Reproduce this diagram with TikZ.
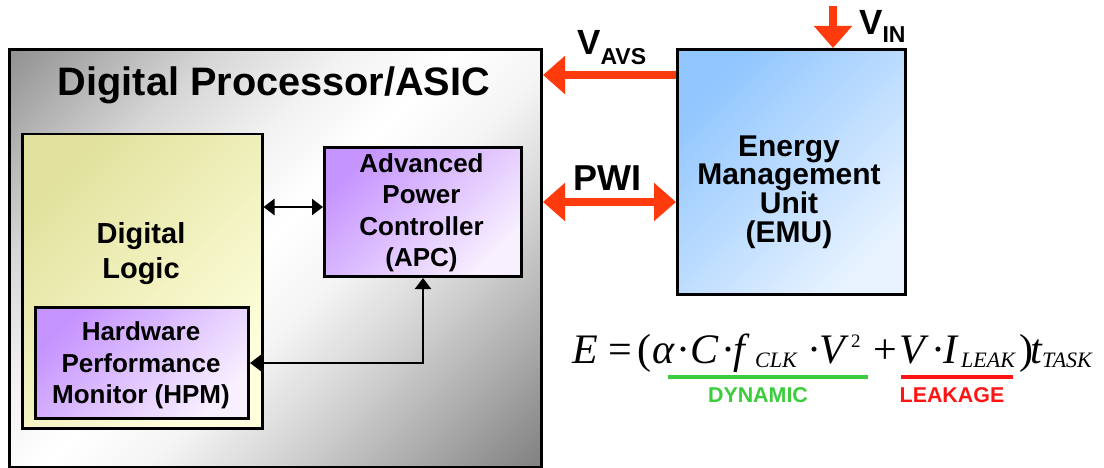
\documentclass[tikz,border=0pt]{standalone}
\usepackage{fontspec}
\usepackage{graphicx}
\setmainfont{Liberation Sans}
\newfontfamily\eqf{Liberation Serif}
\usetikzlibrary{arrows.meta}
\definecolor{avsred}{RGB}{255,58,12}
\definecolor{dyngreen}{RGB}{60,205,60}
\definecolor{leakred}{RGB}{255,20,20}
\definecolor{dlA}{RGB}{226,226,158}
\definecolor{dlB}{RGB}{255,255,222}
\definecolor{puA}{RGB}{198,148,255}
\definecolor{puB}{RGB}{248,240,255}
\definecolor{emA}{RGB}{145,198,255}
\definecolor{emB}{RGB}{232,243,255}
\pgfdeclareverticalshading{asicsh}{100bp}{rgb(0bp)=(0.32,0.32,0.32); rgb(12bp)=(0.46,0.46,0.46); rgb(24bp)=(0.66,0.66,0.66); rgb(34bp)=(0.82,0.82,0.82); rgb(44bp)=(0.96,0.96,0.96); rgb(52bp)=(1,1,1); rgb(60bp)=(0.95,0.95,0.95); rgb(70bp)=(0.84,0.84,0.84); rgb(86bp)=(0.56,0.56,0.56); rgb(100bp)=(0.36,0.36,0.36)}
\newcommand\eqsb[1]{\raisebox{-4pt}{\fontsize{22}{22}\selectfont\itshape #1}}
\newcommand\eqsp[1]{\raisebox{16pt}{\fontsize{19}{19}\selectfont\upshape #1}}
\newcommand\eqbx[2]{\makebox[#1pt][l]{#2}}
\tikzset{
  blkbox/.style={draw=black, line width=3pt, inner sep=0pt, anchor=north west},
  lbl/.style={font=\bfseries\fontsize{26}{31.5}\selectfont, align=center, inner sep=0pt},
  blkarr/.style={line width=2.5pt, {Triangle[length=11pt,width=16pt]}-{Triangle[length=11pt,width=16pt]}},
  redarr/.style={draw=avsred, line width=8pt, -{Triangle[length=22pt,width=37pt]}},
  redarr2/.style={draw=avsred, line width=8pt, {Triangle[length=22pt,width=37pt]}-{Triangle[length=22pt,width=37pt]}},
}
\begin{document}
\begin{tikzpicture}[x=1pt,y=-1pt]
\useasboundingbox[fill=white] (0,0) rectangle (1104,468);
% boxes
\node[blkbox, minimum width=532pt, minimum height=418pt, shading=asicsh, shading angle=45] (asic) at (8,48) {};
\node[blkbox, line width=2.5pt, minimum width=240pt, minimum height=294pt, top color=dlA, bottom color=dlB, shading angle=45] (dl) at (21,133) {};
\node[blkbox, minimum width=213pt, minimum height=111pt, top color=puA, bottom color=puB, shading angle=45] (hpm) at (34,306) {};
\node[blkbox, minimum width=197pt, minimum height=129pt, top color=puA, bottom color=puB, shading angle=45] (apc) at (323,146) {};
\node[blkbox, minimum width=228pt, minimum height=245pt, top color=emA, bottom color=emB, shading angle=45] (emu) at (676,48) {};
% texts
\node[inner sep=0pt, anchor=base, font=\bfseries\fontsize{39.7}{40}\selectfont] (title) at (274,95.5) {Digital Processor/ASIC};
\node[lbl, font=\bfseries\fontsize{29}{35.5}\selectfont] (dltext) at (141,253.5) {Digital\\Logic};
\node[lbl] (apctext) at (421.5,213) {Advanced\\Power\\Controller\\(APC)};
\node[lbl] (hpmtext) at (141,365.5) {Hardware\\Performance\\Monitor (HPM)};
\node[lbl, font=\bfseries\fontsize{30}{28.7}\selectfont] (emutext) at (789,192) {Energy\\Management\\Unit\\(EMU)};
% black connectors
\coordinate (dlapcy) at (0,207);
\draw[blkarr] (dl.east |- dlapcy) -- (apc.west |- dlapcy);
\draw[blkarr] (hpm.east) -- (hpm.east -| apc.south) -- (apc.south);
% red connectors
\coordinate (avsy) at (0,75);
\coordinate (pwiy) at (0,202);
\coordinate (vintop) at (833,6);
\draw[redarr] (emu.west |- avsy) -- (asic.east |- avsy);
\draw[redarr2] (asic.east |- pwiy) -- (emu.west |- pwiy);
\draw[redarr] (vintop) -- (vintop |- emu.north);
% labels of red arrows
\node[inner sep=0pt, anchor=base west, font=\bfseries\fontsize{35}{35}\selectfont] (vavs) at (577,55) {V\raisebox{-10pt}{\fontsize{23}{23}\selectfont AVS}};
\node[inner sep=0pt, anchor=base west, font=\bfseries\fontsize{35}{35}\selectfont] (vin) at (859,35) {V\raisebox{-8pt}{\fontsize{23}{23}\selectfont IN}};
\node[inner sep=0pt, anchor=base, font=\bfseries\fontsize{36}{36}\selectfont] (pwi) at (607,190) {PWI};
% equation
\node[inner sep=0pt, anchor=base west] (eq) at (572,363) {\eqf\fontsize{42}{42}\selectfont\itshape
 \eqbx{36}{E}\eqbx{29}{\upshape=}\eqbx{15}{\upshape(}\eqbx{24}{α}\eqbx{14}{\upshape·}\eqbx{31}{C}\eqbx{12}{\upshape·}\eqbx{22}{f}\eqbx{52}{\eqsb{CLK}}\eqbx{12}{\upshape·}\eqbx{32}{V}\eqbx{22}{\eqsp{2}}\eqbx{26}{\upshape+}\eqbx{32}{V}\eqbx{12}{\upshape·}\eqbx{18}{I}\eqbx{58}{\eqsb{LEAK}}\eqbx{11}{\upshape)}\eqbx{12}{t}\eqsb{TASK}};
\coordinate (g1) at (668,377);
\coordinate (g2) at (868,377);
\coordinate (r1) at (901,377);
\coordinate (r2) at (1013,377);
\draw[dyngreen, line width=4.5pt] (g1) -- (g2);
\draw[leakred, line width=4.5pt] (r1) -- (r2);
\node[inner sep=0pt, text=dyngreen, font=\bfseries\fontsize{21.4}{21.4}\selectfont] (dyn) at (758,395) {DYNAMIC};
\node[inner sep=0pt, text=leakred, font=\bfseries\fontsize{21.4}{21.4}\selectfont] (leak) at (952,395) {LEAKAGE};
\end{tikzpicture}
\end{document}
